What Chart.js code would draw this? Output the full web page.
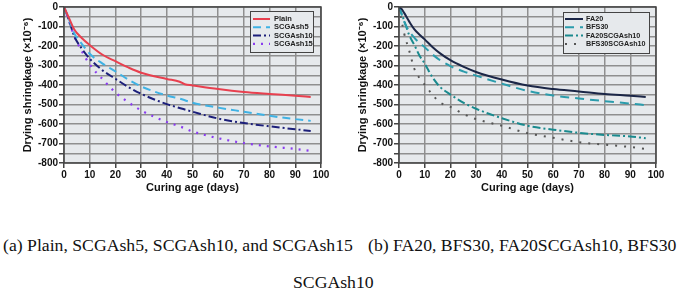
<!DOCTYPE html>
<html>
<head>
<meta charset="utf-8">
<script src="https://cdn.jsdelivr.net/npm/chart.js@4.4.1/dist/chart.umd.min.js"></script>
<style>
  html, body { margin: 0; padding: 0; background: #fff; }
  body { width: 685px; height: 293px; position: relative; overflow: hidden; }
  .plot { position: absolute; top: 0; width: 340px; height: 200px; }
  .cap { position: absolute; font-family: "Liberation Serif", "Times New Roman", serif; font-size: 17.7px; line-height: 20px; color: #111; white-space: nowrap; }
</style>
</head>
<body>
<div class="plot" style="left:0"><canvas id="chartA" width="340" height="200"></canvas></div>
<div class="plot" style="left:335px"><canvas id="chartB" width="340" height="200"></canvas></div>
<div class="cap" style="left:3px; top:235px">(a) Plain, SCGAsh5, SCGAsh10, and SCGAsh15</div>
<div class="cap" style="left:368px; top:235px">(b) FA20, BFS30, FA20SCGAsh10, BFS30</div>
<div class="cap" style="left:293px; top:272px">SCGAsh10</div>
<script>
// ---- data ----
const daysA = [0, 2, 4, 7, 10, 15, 20, 25, 30, 40, 45, 47, 50, 60, 70, 80, 90, 96];
const plain    = [0, -58, -115, -160, -195, -245, -278, -310, -337, -369, -383, -396, -402, -421, -436, -446, -455, -461];
const scgash5  = [0, -65, -135, -190, -240, -290, -330, -372, -407, -454, -470, -478, -491, -516, -537, -558, -575, -584];
const scgash10 = [0, -70, -150, -215, -265, -325, -368, -410, -445, -498, -518, -526, -537, -572, -595, -612, -627, -636];
const scgash15 = [0, -75, -150, -228, -295, -370, -438, -488, -530, -590, -612, -622, -638, -673, -698, -715, -728, -738];

const daysB = [0, 1, 2, 4, 6, 8, 10, 13, 16, 20, 25, 30, 40, 50, 60, 70, 80, 90, 96];
const fa20        = [0, -10, -30, -75, -115, -142, -166, -205, -238, -273, -306, -333, -372, -403, -421, -433, -446, -455, -461];
const bfs30       = [0, -35, -75, -125, -158, -185, -206, -243, -273, -303, -330, -352, -393, -430, -454, -469, -483, -495, -503];
const fa20scgash  = [0, -35, -70, -145, -195, -250, -290, -360, -410, -449, -490, -522, -570, -609, -629, -645, -656, -664, -673];
const bfs30scgash = [0, -70, -135, -225, -318, -365, -398, -450, -490, -512, -548, -575, -609, -647, -671, -693, -706, -718, -728];

const xTicks = { min: 0, max: 100, step: 10 };
const yTicks = { min: -800, max: 0, step: 50, labelStep: 100 };

const BG = '#e6e9ec';
const GRID = '#8f8f8f';
const FRAME = '#444';

function pts(days, vals) {
  return days.map((d, i) => ({ x: d, y: vals[i] }));
}

function ds(label, days, vals, color, dash, width) {
  return {
    label,
    data: pts(days, vals),
    borderColor: color,
    backgroundColor: color,
    borderWidth: width || 2,
    borderDash: dash,
    pointRadius: 0,
    fill: false,
    cubicInterpolationMode: 'monotone'
  };
}

// plot background + frame
const frame = {
  id: 'frame',
  beforeDraw(chart) {
    const { ctx, chartArea: a } = chart;
    ctx.save();
    ctx.fillStyle = BG;
    ctx.fillRect(a.left, a.top, a.right - a.left, a.bottom - a.top);
    ctx.restore();
  },
  afterDraw(chart) {
    const { ctx, chartArea: a } = chart;
    ctx.save();
    ctx.strokeStyle = FRAME;
    ctx.lineWidth = 1.5;
    ctx.strokeRect(a.left, a.top, a.right - a.left, a.bottom - a.top);
    ctx.restore();
  }
};

// boxed legend inside the plot
const boxLegend = {
  id: 'boxLegend',
  afterDatasetsDraw(chart, args, o) {
    const ctx = chart.ctx;
    ctx.save();
    ctx.fillStyle = BG;
    ctx.fillRect(o.x, o.y, o.w, o.h);
    ctx.strokeStyle = FRAME;
    ctx.lineWidth = 1;
    ctx.strokeRect(o.x + 0.5, o.y + 0.5, o.w, o.h);
    ctx.font = 'bold ' + o.size + 'px "Liberation Sans", Arial, sans-serif';
    ctx.textBaseline = 'middle';
    chart.data.datasets.forEach((d, i) => {
      const y = o.y + o.first + i * o.row;
      ctx.strokeStyle = d.borderColor;
      ctx.lineWidth = d.borderWidth;
      ctx.setLineDash(d.borderDash || []);
      ctx.beginPath();
      ctx.moveTo(o.x + o.s0, y);
      ctx.lineTo(o.x + o.s1, y);
      ctx.stroke();
      ctx.setLineDash([]);
      ctx.fillStyle = '#222';
      ctx.fillText(d.label, o.x + o.tx, y);
    });
    ctx.restore();
  }
};

function makeChart(id, datasets, legendPos) {
  const tickFont = { family: '"Liberation Sans", Arial, sans-serif', size: 10, weight: 'bold' };
  const titleFont = { family: '"Liberation Sans", Arial, sans-serif', size: 11, weight: 'bold' };
  return new Chart(document.getElementById(id), {
    type: 'line',
    data: { datasets },
    plugins: [frame, boxLegend],
    options: {
      responsive: false,
      animation: false,
      events: [],
      layout: { padding: { top: 4, right: 19, bottom: 0, left: 0 } },
      plugins: {
        legend: { display: false },
        tooltip: { enabled: false },
        boxLegend: legendPos
      },
      scales: {
        x: {
          type: 'linear',
          min: xTicks.min, max: xTicks.max,
          ticks: { stepSize: xTicks.step, font: tickFont, color: '#111', padding: 1, maxRotation: 0 },
          grid: { color: GRID, lineWidth: 1.5, tickLength: 5, tickColor: FRAME },
          border: { display: false },
          title: { display: true, text: 'Curing age (days)', font: titleFont, color: '#111', padding: { top: 0, bottom: 5 } },
          afterFit(s) { s.height = 37; }
        },
        y: {
          min: yTicks.min, max: yTicks.max,
          ticks: {
            stepSize: yTicks.step, autoSkip: false, font: tickFont, color: '#111', padding: 1,
            callback: v => (v % yTicks.labelStep === 0 ? v : '')
          },
          grid: { color: GRID, lineWidth: 1.5, tickLength: 5, tickColor: FRAME },
          border: { display: false },
          title: { display: true, text: 'Drying shringkage (×10⁻⁶)', font: titleFont, color: '#111', padding: { top: 21, bottom: 0 } },
          afterFit(s) { s.width = 64; }
        }
      }
    }
  });
}

makeChart('chartA', [
  ds('Plain', daysA, plain, '#e8404f', [], 2),
  ds('SCGAsh5', daysA, scgash5, '#3fb2e4', [8, 5], 2),
  ds('SCGAsh10', daysA, scgash10, '#1c1f7a', [8, 3, 2, 3], 2),
  ds('SCGAsh15', daysA, scgash15, '#8a3cef', [2, 6], 2.2)
], { x: 250, y: 11, w: 63, h: 41, first: 8, row: 8.3, s0: 3, s1: 20, tx: 24, size: 7.5 });

makeChart('chartB', [
  ds('FA20', daysB, fa20, '#1b2647', [], 2),
  ds('BFS30', daysB, bfs30, '#2b9cac', [9, 6], 2),
  ds('FA20SCGAsh10', daysB, fa20scgash, '#1a8a8e', [8, 3, 2, 3], 2),
  ds('BFS30SCGAsh10', daysB, bfs30scgash, '#555555', [2, 7], 2)
], { x: 228, y: 12, w: 86, h: 41, first: 7, row: 8.3, s0: 2, s1: 20, tx: 23, size: 7.2 });
</script>
</body>
</html>
